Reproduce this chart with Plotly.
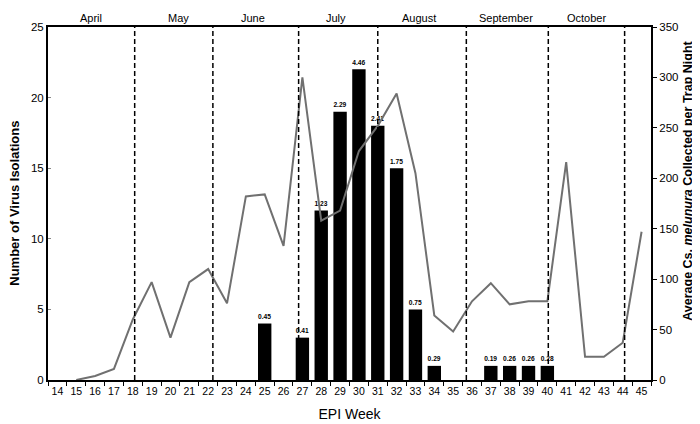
import plotly.graph_objects as go

# EPI weeks on the x axis
weeks = list(range(14, 46))

# virus isolations (bars, left axis) and minimum infection rate labels
bar_weeks = [25, 27, 28, 29, 30, 31, 32, 33, 34, 37, 38, 39, 40]
isolations = [4, 3, 12, 19, 22, 18, 15, 5, 1, 1, 1, 1, 1]
mir_labels = ["0.45", "0.41", "1.23", "2.29", "4.46", "2.41", "1.75",
              "0.75", "0.29", "0.19", "0.26", "0.26", "0.28"]

# average Cs. melanura per trap night (line, right axis)
line_weeks = list(range(15, 46))
mosquitoes = [0, 4, 11, 60, 97, 42, 97, 110, 76, 182, 184, 133, 300, 158,
              168, 227, 252, 284, 205, 64, 48, 78, 96, 75, 78, 78, 216,
              23, 23, 37, 147]

# month boundaries (in week units) and month name positions
month_bounds = [18.1, 22.25, 26.8, 31.0, 35.7, 40.05, 44.1]
month_names = ["April", "May", "June", "July", "August", "September", "October"]
month_pos = [15.8, 20.45, 24.4, 28.8, 33.2, 37.8, 42.06]

FONT = "Liberation Sans, Arial, sans-serif"

fig = go.Figure()

fig.add_trace(go.Bar(
    x=bar_weeks, y=isolations, width=0.71,
    marker=dict(color="black", line_width=0),
    text=["<b>%s</b>" % t for t in mir_labels],
    textposition="outside", cliponaxis=False,
    textfont=dict(size=8, color="black", family=FONT),
    yaxis="y",
))

fig.add_trace(go.Scatter(
    x=line_weeks, y=mosquitoes, mode="lines",
    line=dict(color="#707070", width=2),
    yaxis="y2",
))

# dashed month separators
for b in month_bounds:
    fig.add_shape(type="line", x0=b, x1=b, y0=0, y1=1, xref="x", yref="paper",
                  line=dict(color="black", width=1.5, dash="5px,3px"))

# month names above the plot
for name, p in zip(month_names, month_pos):
    fig.add_annotation(x=p, y=1.0, xref="x", yref="paper", yanchor="bottom",
                       yshift=1, text=name, showarrow=False,
                       font=dict(size=11, color="black", family=FONT))

# axis titles
fig.add_annotation(x=-0.056, y=0.5, xref="paper", yref="paper",
                   xanchor="center", yanchor="middle",
                   text="<b>Number of Virus Isolations</b>", textangle=-90,
                   showarrow=False, font=dict(size=13, color="black", family=FONT))
fig.add_annotation(x=1.075, y=0.565, xref="paper", yref="paper",
                   yanchor="middle",
                   text="<b>Average Cs. <i>melunura</i> Collected per Trap Night</b>",
                   textangle=-90, showarrow=False,
                   font=dict(size=12.5, color="black", family=FONT))

fig.update_layout(
    width=700, height=424,
    margin=dict(l=40, r=57, t=19, b=41),
    plot_bgcolor="white", paper_bgcolor="white",
    showlegend=False,
    font=dict(family=FONT, color="black", size=11),
    xaxis=dict(
        range=[13.5, 45.5], tickvals=weeks, ticktext=[str(w) for w in weeks],
        ticks="", showgrid=False, zeroline=False,
        showline=True, linecolor="black", linewidth=2, mirror=True,
        tickfont=dict(size=10.5),
        minor=dict(tick0=13.5, dtick=1, ticks="outside", ticklen=4,
                   tickcolor="black", showgrid=False),
        title=dict(text="EPI Week", font=dict(size=14), standoff=14),
    ),
    yaxis=dict(
        range=[0, 25], dtick=5, showgrid=False, zeroline=False,
        showline=True, linecolor="black", linewidth=2,
        ticks="inside", ticklen=3, tickcolor="#888",
        tickfont=dict(size=11.5),
    ),
    yaxis2=dict(
        range=[0, 350], dtick=50, overlaying="y", side="right",
        showgrid=False, zeroline=False,
        showline=True, linecolor="black", linewidth=2,
        ticks="outside", ticklen=4, tickcolor="black",
        tickfont=dict(size=11.5),
    ),
)

fig.write_html("out.html")
